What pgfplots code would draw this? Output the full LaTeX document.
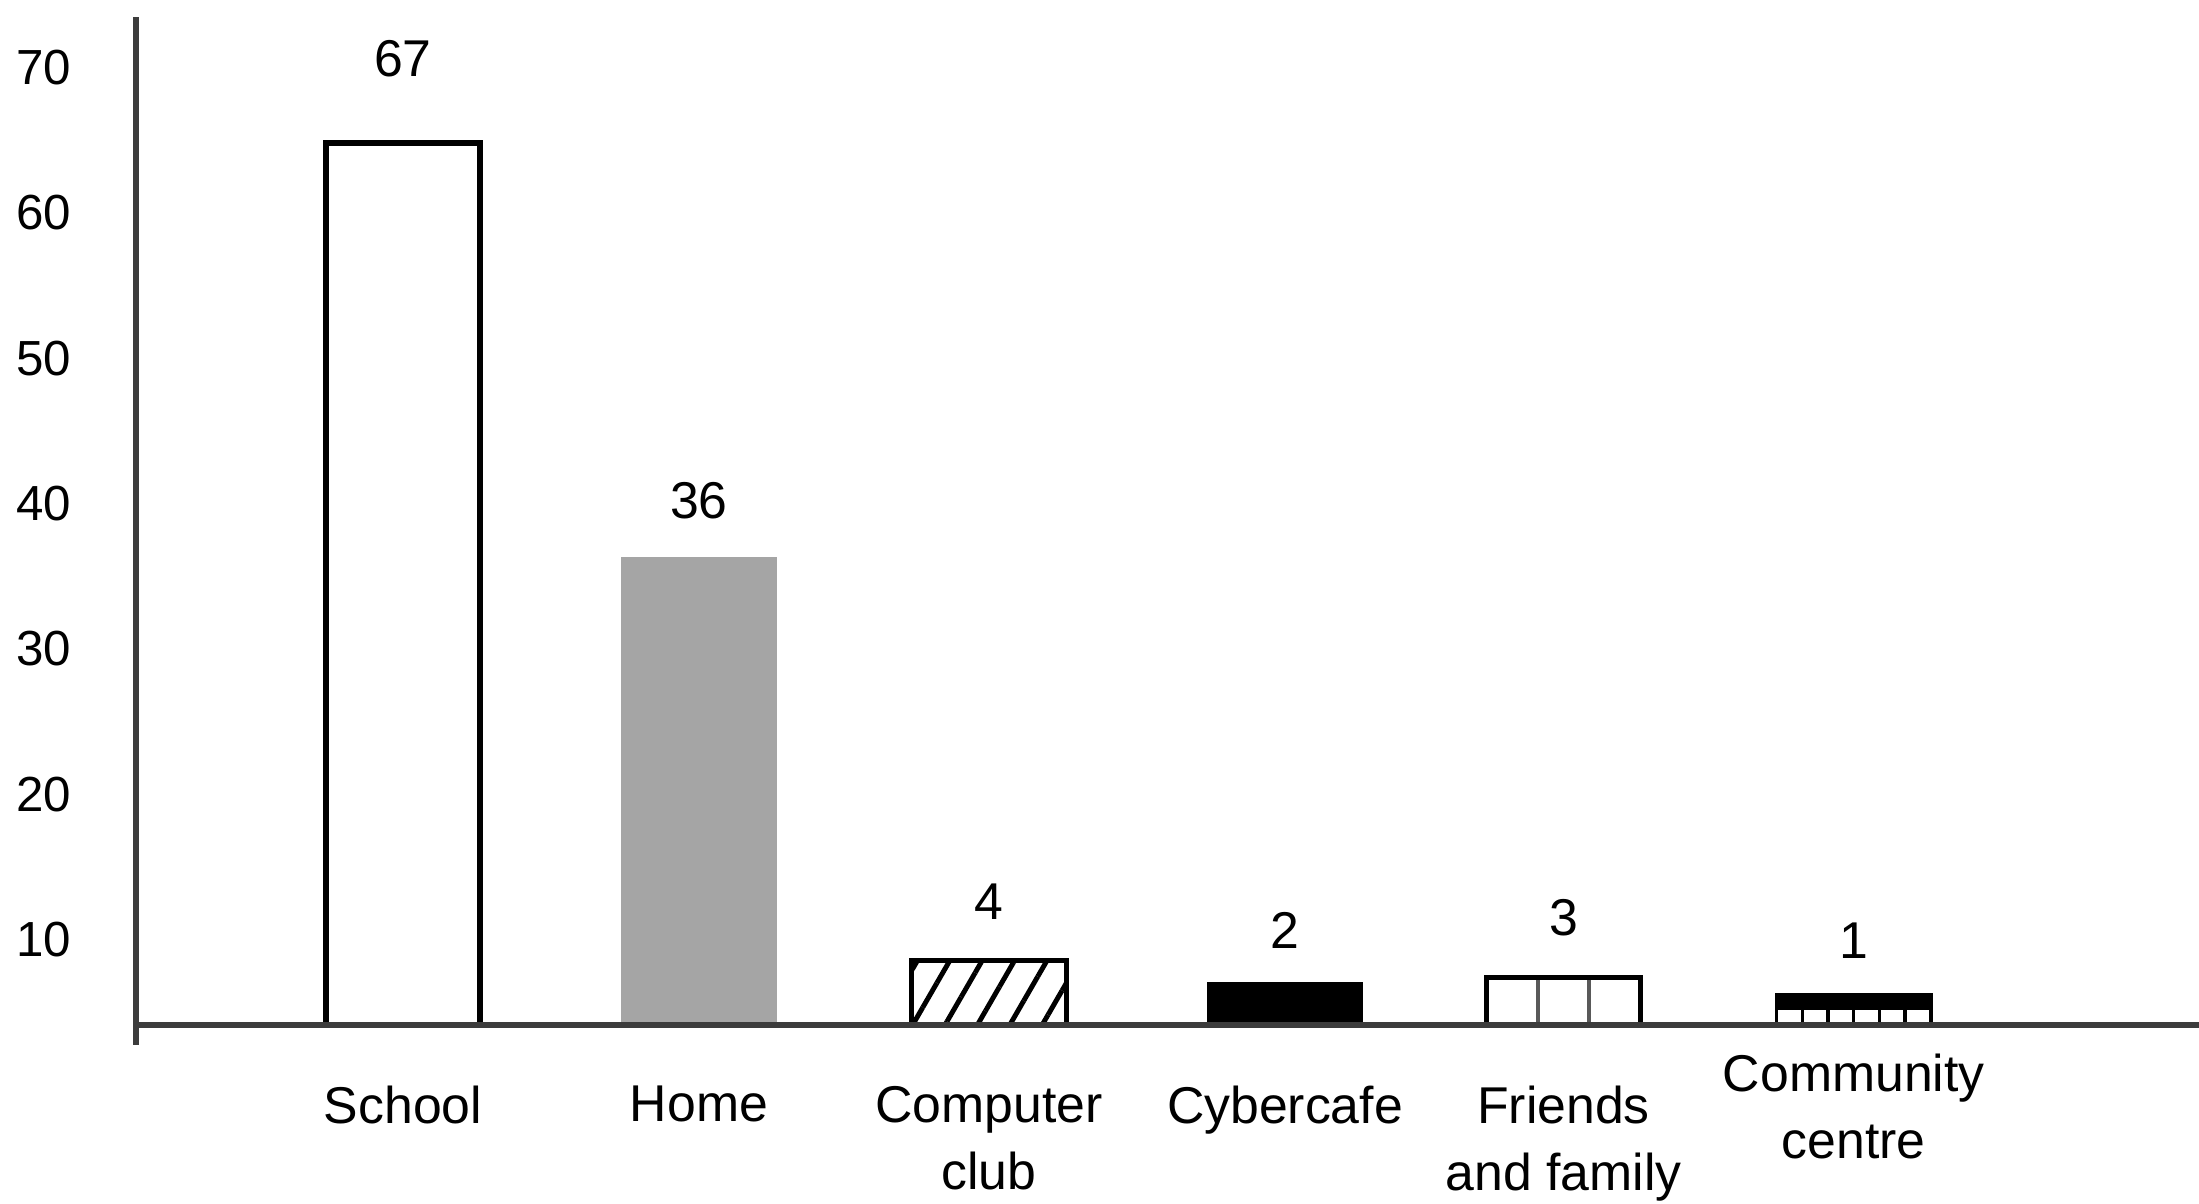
\documentclass[border=0pt]{standalone}
\usepackage{fontspec}
\setmainfont{Liberation Sans}
\usepackage{pgfplots}
\pgfplotsset{compat=1.18}
\usetikzlibrary{patterns.meta}

\definecolor{axisgray}{RGB}{60,60,60}
\definecolor{homegray}{RGB}{165,165,165}

\pgfplotsset{
  mybar/.style={ybar, bar width=1.10cm, bar shift=0pt},
}

\begin{document}
\begin{tikzpicture}
\begin{axis}[
  name=ax,
  scale only axis,
  width=14.71cm, height=7.19cm,
  xmin=-0.92, xmax=6.19,
  ymin=4.12, ymax=73.47,
  axis lines=left,
  axis line style={-, line width=1.2pt, color=axisgray},
  y axis line style={shorten <=-0.14cm},
  axis on top,
  ytick={10,20,...,70},
  xtick={0,1.02,2.02,3.04,4},
  xticklabels={School, Home, {Computer\\club}, Cybercafe, {Friends\\and family}},
  extra x ticks={5},
  extra x tick labels={{Community\\centre}},
  extra x tick style={xticklabel style={yshift=0.23cm}},
  major tick length=0pt,
  tick style={draw=none},
  /pgf/number format/assume math mode=true,
  yticklabel style={font=\fontsize{10}{12}\selectfont, xshift=-0.34cm},
  xticklabel style={font=\fontsize{10.5}{13.65}\selectfont, align=center, anchor=north, yshift=-0.31cm},
  every node near coord/.append style={font=\fontsize{10.5}{12}\selectfont, text=black},
]
% School
\addplot[mybar, fill=white, draw=black, line width=1.2pt,
  nodes near coords={67}, every node near coord/.append style={yshift=0.33cm}]
  coordinates {(0,64.8)};
% Home
\addplot[mybar, fill=homegray, draw=homegray, line width=0.5pt,
  nodes near coords={36}, every node near coord/.append style={yshift=0.15cm}]
  coordinates {(1.02,36.25)};
% Computer club
\addplot[mybar, draw=black, line width=1pt,
  pattern={Lines[angle=60, distance=0.2cm, line width=1pt]}, pattern color=black,
  nodes near coords={4}, every node near coord/.append style={yshift=0.16cm}]
  coordinates {(2.02,8.56)};
% Cybercafe
\addplot[mybar, fill=black, draw=black, line width=0.5pt,
  nodes near coords={2}, every node near coord/.append style={yshift=0.12cm}]
  coordinates {(3.04,7.04)};
% Friends and family (three cells)
\addplot[ybar, bar shift=0pt, bar width=0.3667cm, fill=white, draw=black!65, line width=0.8pt]
  coordinates {(3.8228,7.39) (4,7.39) (4.1772,7.39)};
\addplot[mybar, fill=none, draw=black, line width=1.1pt,
  nodes near coords={3}, every node near coord/.append style={yshift=0.16cm}]
  coordinates {(4,7.39)};
% Community centre (black band over small cells)
\addplot[mybar, fill=black, draw=black, line width=0.8pt,
  nodes near coords={1}, every node near coord/.append style={yshift=0.13cm}]
  coordinates {(5,6.2)};
\addplot[ybar, bar shift=0pt, bar width=0.1833cm, fill=white, draw=black, line width=0.7pt]
  coordinates {(4.7785,5.26) (4.8671,5.26) (4.9557,5.26) (5.0443,5.26) (5.1329,5.26) (5.2215,5.26)};
\end{axis}
\pgfresetboundingbox
\path ([xshift=-0.97cm,yshift=-1.27cm]ax.south west) ([yshift=0.12cm]ax.north east);
\end{tikzpicture}
\end{document}
